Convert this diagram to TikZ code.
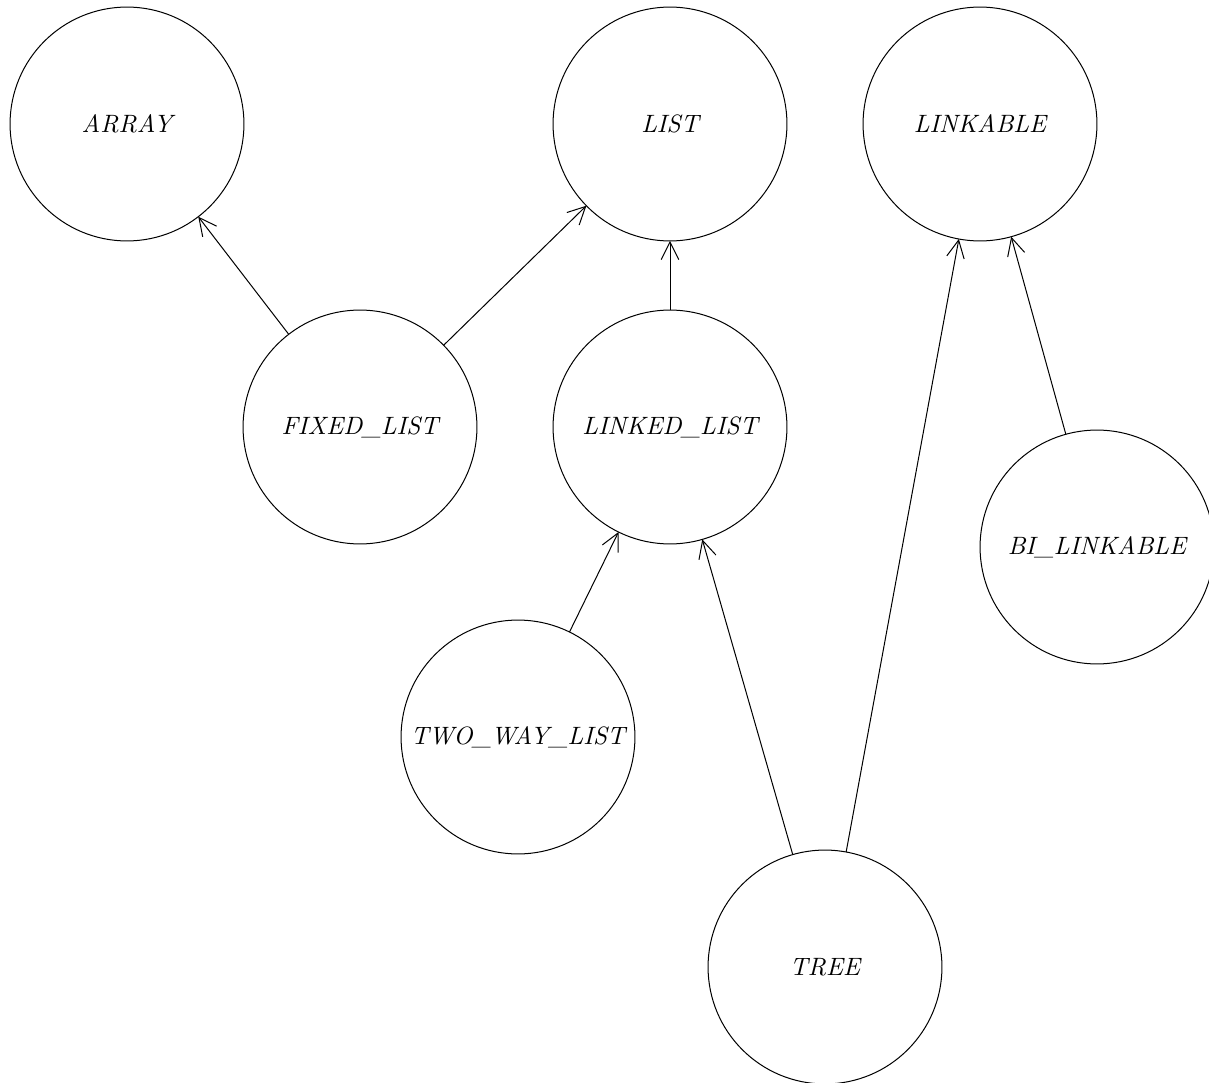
\documentclass[tikz,border=0pt]{standalone}
\usepackage{tikz}
\usetikzlibrary{arrows.meta}
\tikzset{
    classnode/.style = {
        circle,
        draw=black,
        align=center,
        font=\itshape,
        minimum size=3.276cm,
        inner sep=0pt,
        outer sep=0mm
    },
    inherit/.style = {
        -{Straight Barb[length=7pt,width=7pt]}
    }
}
\begin{document}
\begin{tikzpicture}[x=0.014cm, y=-0.014cm]
    \useasboundingbox (0,0) rectangle (1209,1083);
    % classes
    \node [classnode] (array)      at (127,124)  {ARRAY};
    \node [classnode] (list)       at (670,124)  {LIST};
    \node [classnode] (linkable)   at (980,124)  {LINKABLE};
    \node [classnode] (fixedlist)  at (360,427)  {FIXED\_LIST};
    \node [classnode] (linkedlist) at (670,427)  {LINKED\_LIST};
    \node [classnode] (bilinkable) at (1097,547) {BI\_LINKABLE};
    \node [classnode] (twowaylist) at (518,737)  {TWO\_WAY\_LIST};
    \node [classnode] (tree)       at (825,967)  {TREE};
    % inheritance
    \draw [inherit] (fixedlist)  -- (array);
    \draw [inherit] (fixedlist)  -- (list);
    \draw [inherit] (linkedlist) -- (list);
    \draw [inherit] (twowaylist) -- (linkedlist);
    \draw [inherit] (tree)       -- (linkedlist);
    \draw [inherit] (tree)       -- (linkable);
    \draw [inherit] (bilinkable) -- (linkable);
\end{tikzpicture}
\end{document}
